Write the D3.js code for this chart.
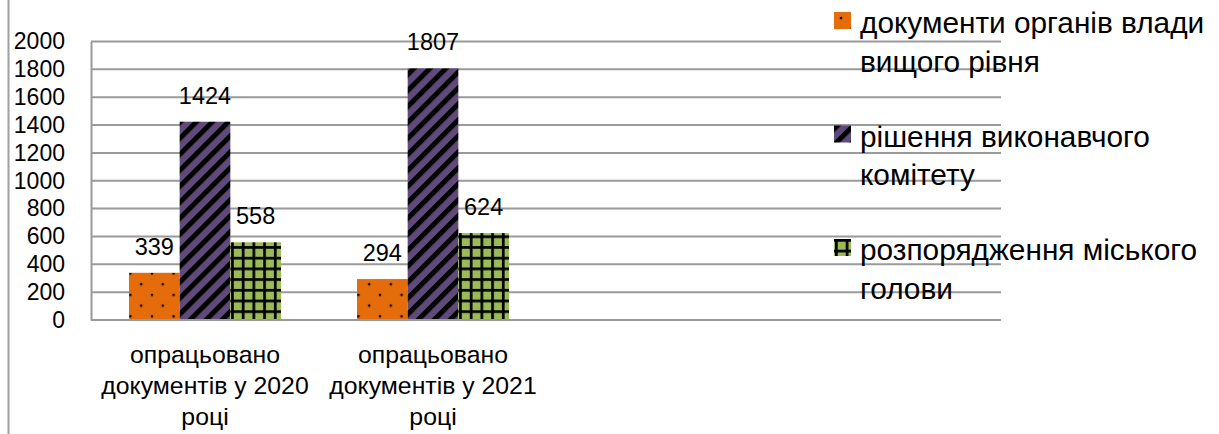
<!DOCTYPE html>
<html>
<head>
<meta charset="utf-8">
<script src="https://cdn.jsdelivr.net/npm/d3@7"></script>
<style>
  body { margin: 0; background: #fff; }
  text { font-family: "Liberation Sans", Arial, sans-serif; fill: #000; }
</style>
</head>
<body>
<script>
// data
var categories = [
  ["опрацьовано", "документів у 2020", "році"],
  ["опрацьовано", "документів у 2021", "році"]
];
var slotCount = 4; // the category axis keeps room for 4 groups, only 2 are filled
var seriesNames = [
  ["документи органів влади", "вищого рівня"],
  ["рішення виконавчого", "комітету"],
  ["розпорядження міського", "голови"]
];
var higherDocs = [339, 294];
var committeeDecisions = [1424, 1807];
var mayorOrders = [558, 624];
var yTicks = [0, 200, 400, 600, 800, 1000, 1200, 1400, 1600, 1800, 2000];

var seriesValues = [higherDocs, committeeDecisions, mayorOrders];
var fills = ["url(#dots)", "url(#stripes)", "url(#grid)"];

var W = 1219, H = 434;
var plotLeft = 91, plotRight = 1003, plotTop = 41.5, plotBottom = 320;

var svg = d3.select("body").append("svg")
    .attr("width", W)
    .attr("height", H);

// patterns
var defs = svg.append("defs");

var dots = defs.append("pattern")
    .attr("id", "dots")
    .attr("patternUnits", "userSpaceOnUse")
    .attr("x", 5).attr("y", 4)
    .attr("width", 21.6).attr("height", 21.4);
dots.append("rect").attr("width", 21.6).attr("height", 21.4).attr("fill", "#E46C0A");
dots.append("circle").attr("cx", 2).attr("cy", 2).attr("r", 1.3).attr("fill", "#000");
dots.append("circle").attr("cx", 12.8).attr("cy", 12.7).attr("r", 1.3).attr("fill", "#000");

var stripes = defs.append("pattern")
    .attr("id", "stripes")
    .attr("patternUnits", "userSpaceOnUse")
    .attr("width", 11.3).attr("height", 11.3)
    .attr("patternTransform", "rotate(45)");
stripes.append("rect").attr("width", 11.3).attr("height", 11.3).attr("fill", "#604A7B");
stripes.append("rect").attr("width", 5).attr("height", 11.3).attr("fill", "#000");

var grid = defs.append("pattern")
    .attr("id", "grid")
    .attr("patternUnits", "userSpaceOnUse")
    .attr("x", 1).attr("y", 0)
    .attr("width", 10.7).attr("height", 10.7);
grid.append("rect").attr("width", 10.7).attr("height", 10.7).attr("fill", "#000");
grid.append("rect").attr("x", 2.7).attr("y", 2.7).attr("width", 8).attr("height", 8).attr("fill", "#9BBB59");

// scales
var x0 = d3.scaleBand()
    .domain(d3.range(slotCount))
    .range([plotLeft, plotRight]);

var x1 = d3.scaleBand()
    .domain(d3.range(seriesValues.length))
    .range([0, x0.bandwidth()])
    .paddingInner(0)
    .paddingOuter(0.75);

var y = d3.scaleLinear()
    .domain([0, 2000])
    .range([plotBottom, plotTop]);

// outer chart border on the left
svg.append("line")
    .attr("x1", 8.5).attr("x2", 8.5)
    .attr("y1", 0).attr("y2", H)
    .attr("stroke", "#a0a0a0")
    .attr("stroke-width", 2);

// gridlines
svg.append("g")
  .selectAll("line")
    .data(yTicks)
  .enter().append("line")
    .attr("x1", plotLeft)
    .attr("x2", plotRight - 2)
    .attr("y1", function(d) { return y(d); })
    .attr("y2", function(d) { return y(d); })
    .attr("stroke", "#9a9a9a")
    .attr("stroke-width", 2);

// y axis
var yAxis = d3.axisLeft(y)
    .tickValues(yTicks)
    .tickFormat(d3.format("d"))
    .tickSize(0)
    .tickPadding(26);

var yg = svg.append("g")
    .attr("transform", "translate(" + plotLeft + ",0)")
    .call(yAxis);
yg.select(".domain").attr("stroke", "#9a9a9a").attr("stroke-width", 2);
yg.selectAll("text")
    .style("font-size", "23px")
    .style("font-family", "Liberation Sans")
    .attr("fill", "#000");

// bars
var groups = svg.append("g")
  .selectAll("g")
    .data(categories)
  .enter().append("g")
    .attr("transform", function(d, i) { return "translate(" + x0(i) + ",0)"; });

groups.selectAll("rect")
    .data(function(d, i) { return seriesValues.map(function(s, k) { return {k: k, v: s[i]}; }); })
  .enter().append("rect")
    .attr("x", function(d) { return x1(d.k); })
    .attr("y", function(d) { return y(d.v); })
    .attr("width", x1.bandwidth())
    .attr("height", function(d) { return plotBottom - y(d.v); })
    .attr("fill", function(d) { return fills[d.k]; });

groups.selectAll(".val")
    .data(function(d, i) { return seriesValues.map(function(s, k) { return {k: k, v: s[i]}; }); })
  .enter().append("text")
    .attr("class", "val")
    .attr("x", function(d) { return x1(d.k) + x1.bandwidth() / 2; })
    .attr("y", function(d) { return y(d.v) - 18; })
    .style("text-anchor", "middle")
    .style("font-size", "23.5px")
    .text(function(d) { return d.v; });

// category axis line
svg.append("line")
    .attr("x1", plotLeft).attr("x2", plotRight - 2)
    .attr("y1", plotBottom).attr("y2", plotBottom)
    .attr("stroke", "#9a9a9a")
    .attr("stroke-width", 2);

// category labels
var cat = svg.append("g")
  .selectAll("text")
    .data(categories)
  .enter().append("text")
    .attr("x", function(d, i) { return x0(i) + x0.bandwidth() / 2; })
    .attr("y", 363)
    .style("text-anchor", "middle")
    .style("font-size", "24.8px");

cat.selectAll("tspan")
    .data(function(d) { return d; })
  .enter().append("tspan")
    .attr("x", function() { return d3.select(this.parentNode).attr("x"); })
    .attr("dy", function(d, i) { return i ? 31 : 0; })
    .text(function(d) { return d; });

// legend
var legend = svg.append("g")
  .selectAll("g")
    .data(seriesNames)
  .enter().append("g")
    .attr("transform", function(d, i) { return "translate(834," + (12 + i * 113.5) + ")"; });

legend.append("rect")
    .attr("width", 17)
    .attr("height", 17)
    .attr("fill", function(d, i) { return fills[i]; });

var ltext = legend.append("text")
    .attr("x", 26)
    .attr("y", 21)
    .style("font-size", "29.8px");

ltext.selectAll("tspan")
    .data(function(d) { return d; })
  .enter().append("tspan")
    .attr("x", 26)
    .attr("dy", function(d, i) { return i ? 38.5 : 0; })
    .text(function(d) { return d; });
</script>
</body>
</html>
